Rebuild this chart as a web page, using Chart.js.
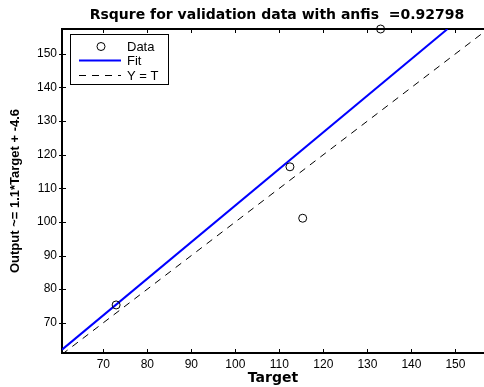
<!DOCTYPE html>
<html>
<head>
<meta charset="utf-8">
<style>
  html, body { margin: 0; padding: 0; background: #fff; }
  #wrap { width: 484px; height: 387px; }
</style>
<script src="https://cdn.jsdelivr.net/npm/chart.js@4.4.0/dist/chart.umd.min.js"></script>
</head>
<body>
<div id="wrap"><canvas id="regChart" width="484" height="387"></canvas></div>
<script>
  const fontFamily = '"Liberation Sans", Arial, Helvetica, sans-serif';
  const titleFamily = '"DejaVu Sans", Verdana, sans-serif';
  const titleText = 'Rsqure for validation data with anfis  =0.92798';

  // points
  const targetVals = [72.9, 112.4, 115.3, 133.0];
  const outputVals = [75.3, 116.4, 101.1, 157.4];

  // fit line: Output ~= 1.1*Target + -4.6
  const fitTarget = [60.6, 148.2];
  const fitOutput = [62.0, 157.4];

  // Y = T reference
  const idTarget = [60.6, 157.4];
  const idOutput = [60.6, 157.4];

  const xTicks = [70, 80, 90, 100, 110, 120, 130, 140, 150];
  const yTicks = [70, 80, 90, 100, 110, 120, 130, 140, 150];

  const toPoints = (xs, ys) => xs.map((x, i) => ({ x, y: ys[i] }));

  // inward tick marks, top box edge and the title
  const axisTicks = {
    id: 'axisTicks',
    beforeDatasetsDraw(chart) {
      const { ctx, chartArea } = chart;
      const xs = chart.scales.x;
      const ys = chart.scales.y;
      ctx.save();
      ctx.strokeStyle = '#000';
      ctx.lineWidth = 1;
      ctx.beginPath();
      xTicks.forEach((v) => {
        const px = Math.round(xs.getPixelForValue(v)) + 0.5;
        ctx.moveTo(px, chartArea.bottom);
        ctx.lineTo(px, chartArea.bottom - 4);
        ctx.moveTo(px, chartArea.top);
        ctx.lineTo(px, chartArea.top + 4);
      });
      yTicks.forEach((v) => {
        const py = Math.round(ys.getPixelForValue(v)) + 0.5;
        ctx.moveTo(chartArea.left - 3, py);
        ctx.lineTo(chartArea.left + 4, py);
      });
      ctx.stroke();
      ctx.lineWidth = 2;
      ctx.beginPath();
      ctx.moveTo(chartArea.left - 1, chartArea.top);
      ctx.lineTo(chartArea.right, chartArea.top);
      ctx.stroke();

      ctx.fillStyle = '#000';
      ctx.font = 'bold 14px ' + titleFamily;
      ctx.textAlign = 'center';
      ctx.textBaseline = 'middle';
      ctx.fillText(titleText, 277, 15);
      ctx.restore();
    }
  };

  const boxLegend = {
    id: 'boxLegend',
    afterDraw(chart) {
      const { ctx } = chart;
      const sets = chart.data.datasets;
      const left = 70, top = 34, w = 98, h = 50;
      ctx.save();
      ctx.fillStyle = '#fff';
      ctx.fillRect(left, top, w, h);
      ctx.strokeStyle = '#000';
      ctx.lineWidth = 1;
      ctx.strokeRect(left + 0.5, top + 0.5, w, h);
      ctx.font = '13px ' + fontFamily;
      ctx.textBaseline = 'middle';
      ctx.fillStyle = '#000';
      const rows = [46.5, 60.5, 75.5];
      sets.forEach((ds, i) => {
        const y = rows[i];
        ctx.strokeStyle = ds.borderColor;
        ctx.lineWidth = ds.borderWidth;
        ctx.setLineDash(ds.borderDash || []);
        ctx.beginPath();
        if (ds.showLine === false) {
          ctx.arc(101, y, ds.pointRadius, 0, Math.PI * 2);
        } else {
          ctx.moveTo(79, y);
          ctx.lineTo(121, y);
        }
        ctx.stroke();
        ctx.setLineDash([]);
        ctx.fillText(ds.label, 127, y + 1);
      });
      ctx.restore();
    }
  };

  new Chart(document.getElementById('regChart'), {
    type: 'scatter',
    data: {
      datasets: [
        {
          label: 'Data',
          data: toPoints(targetVals, outputVals),
          showLine: false,
          pointStyle: 'circle',
          pointRadius: 4,
          pointHoverRadius: 4,
          borderColor: '#000',
          borderWidth: 1,
          backgroundColor: 'rgba(0,0,0,0)',
          clip: false
        },
        {
          label: 'Fit',
          data: toPoints(fitTarget, fitOutput),
          showLine: true,
          pointRadius: 0,
          borderColor: '#0000ff',
          borderWidth: 2,
          backgroundColor: '#0000ff'
        },
        {
          label: 'Y = T',
          data: toPoints(idTarget, idOutput),
          showLine: true,
          pointRadius: 0,
          borderColor: '#000',
          borderWidth: 1,
          borderDash: [7, 6],
          backgroundColor: '#000'
        }
      ]
    },
    options: {
      responsive: false,
      animation: false,
      devicePixelRatio: 1,
      layout: { autoPadding: false, padding: { top: 29, right: 0, bottom: 0, left: 0 } },
      plugins: {
        legend: { display: false },
        tooltip: { enabled: false },
        title: { display: false }
      },
      scales: {
        x: {
          type: 'linear',
          min: 60.6,
          max: 156.5,
          afterBuildTicks: (scale) => { scale.ticks = xTicks.map((v) => ({ value: v })); },
          afterFit: (scale) => {
            scale.height = 34;
            scale.paddingLeft = 0;
            scale.paddingRight = 0;
          },
          grid: { display: false, drawTicks: false },
          border: { display: true, color: '#000', width: 2 },
          ticks: {
            color: '#000',
            padding: 4,
            maxRotation: 0,
            font: { family: fontFamily, size: 12 }
          },
          title: {
            display: true,
            text: 'Target',
            color: '#000',
            font: { family: titleFamily, size: 14, weight: 'bold' },
            padding: { top: 0, bottom: 0 }
          }
        },
        y: {
          type: 'linear',
          min: 61,
          max: 157.4,
          afterBuildTicks: (scale) => { scale.ticks = yTicks.map((v) => ({ value: v })); },
          afterFit: (scale) => { scale.width = 62; },
          grid: { display: false, drawTicks: false },
          border: { display: true, color: '#000', width: 2 },
          ticks: {
            color: '#000',
            padding: 5,
            font: { family: fontFamily, size: 12 }
          },
          title: {
            display: true,
            text: 'Output ~= 1.1*Target + -4.6',
            color: '#000',
            font: { family: fontFamily, size: 13, weight: 'bold' },
            padding: { top: 8, bottom: 0 }
          }
        }
      }
    },
    plugins: [axisTicks, boxLegend]
  });
</script>
</body>
</html>
